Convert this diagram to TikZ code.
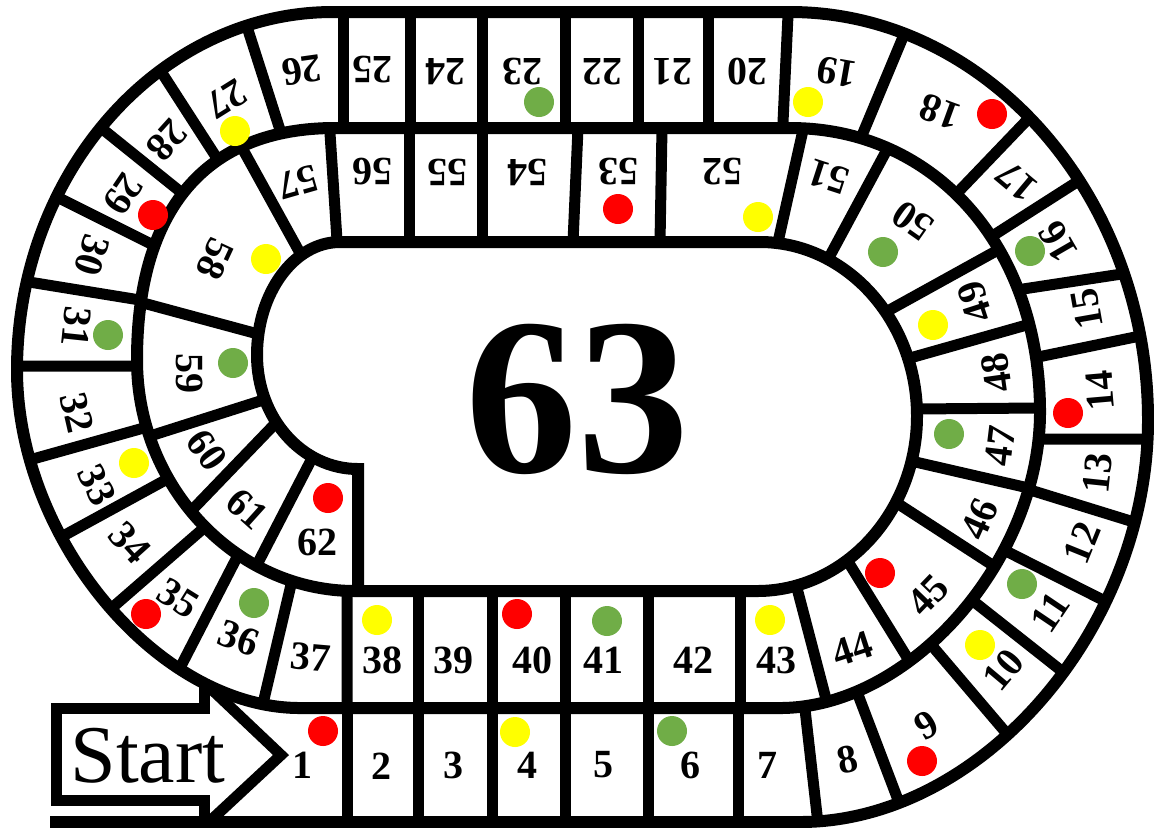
\documentclass[tikz,border=0pt]{standalone}
\usepackage{fontspec}
\setmainfont{Liberation Serif}
\usetikzlibrary{intersections,calc}
\definecolor{dgreen}{HTML}{70AD47}
\definecolor{dred}{HTML}{FF0000}
\definecolor{dyellow}{HTML}{FFFF00}
\newcommand\dv[2]{%
  \path[name path=dd] ($#1!-0.4!#2$) -- ($#2!-0.4!#1$);
  \draw[divider, name intersections={of=sp and dd, sort by=dd}] (intersection-1) -- (intersection-2);}
\begin{document}
\begin{tikzpicture}[x=0.5pt,y=-0.5pt,
  track/.style={line width=6pt, line join=miter},
  divider/.style={line width=5.5pt},
  num/.style={font=\fontsize{20}{20}\selectfont\bfseries, inner sep=0pt},
  dot/.style={circle, inner sep=0pt, minimum size=15pt, draw=none}]
\useasboundingbox (0,0) rectangle (1154,827);
% spiral track
\draw[track, name path=sp] (50,822) -- (800,822)
  .. controls (981,822) and (1148,629) .. (1148,420)
  .. controls (1148,196) and (987,12) .. (790,12) -- (333,12)
  .. controls (159,12) and (17,173) .. (17,370)
  .. controls (17,539) and (158.5,708) .. (300,708) -- (780,708)
  .. controls (910,708) and (1040,560) .. (1040,412)
  .. controls (1040,247) and (935,128) .. (790,128) -- (335,128)
  .. controls (206,128) and (137,209) .. (137,360)
  .. controls (137,486) and (235,591) .. (355,591) -- (757,591)
  .. controls (845,591) and (917,512) .. (917,416)
  .. controls (917,320) and (846,242) .. (760,242) -- (340,242)
  .. controls (294,242) and (257,293) .. (257,355)
  .. controls (257,418) and (302,469) .. (358,469) -- (358,591);
% dividers: bottom row
\dv{(347,708)}{(347,822)}
\dv{(418,708)}{(418,822)}
\dv{(492,708)}{(492,822)}
\dv{(565,708)}{(565,822)}
\dv{(648,708)}{(648,822)}
\dv{(738,708)}{(738,822)}
\dv{(805,709)}{(817,815)}
\dv{(862,705)}{(900,805)}
% right outer
\dv{(940,655)}{(1008,735)}
\dv{(987,612)}{(1063,672)}
\dv{(1010,553)}{(1107,602)}
\dv{(1040,493)}{(1137,523)}
\dv{(1040,439)}{(1147,439)}
\dv{(1043,356)}{(1140,336)}
\dv{(1023,289)}{(1135,272)}
\dv{(997,233)}{(1080,180)}
\dv{(960,190)}{(1030,117)}
\dv{(863,133)}{(903,37)}
\dv{(783,122)}{(788,15)}
% top outer
\dv{(708,128)}{(708,12)}
\dv{(638,128)}{(638,12)}
\dv{(565,128)}{(565,12)}
\dv{(482,128)}{(482,12)}
\dv{(410,128)}{(410,12)}
\dv{(343,128)}{(343,12)}
\dv{(280,130)}{(248,30)}
% left outer
\dv{(220,163)}{(160,70)}
\dv{(187,197)}{(100,127)}
\dv{(157,247)}{(57,197)}
\dv{(140,300)}{(17,280)}
\dv{(133,366)}{(20,366)}
\dv{(140,429)}{(33,459)}
\dv{(160,483)}{(63,536)}
\dv{(205,527)}{(113,607)}
\dv{(233,565)}{(182,664)}
\dv{(290,589)}{(265,695)}
% inner bottom
\dv{(347,591)}{(347,708)}
\dv{(418,591)}{(418,708)}
\dv{(492,591)}{(492,708)}
\dv{(565,591)}{(565,708)}
\dv{(648,591)}{(648,708)}
\dv{(740,591)}{(740,708)}
\dv{(798,592)}{(825,695)}
% inner right
\dv{(850,565)}{(910,662)}
\dv{(900,505)}{(1000,570)}
\dv{(920,463)}{(1033,489)}
\dv{(917,409)}{(1040,408)}
\dv{(917,356)}{(1023,326)}
\dv{(893,308)}{(998,250)}
\dv{(833,250)}{(883,157)}
\dv{(780,233)}{(803,130)}
% inner top
\dv{(660,242)}{(662,128)}
\dv{(573,242)}{(578,128)}
\dv{(482,242)}{(482,128)}
\dv{(409,242)}{(409,128)}
\dv{(337,240)}{(330,133)}
% inner left
\dv{(300,253)}{(247,157)}
\dv{(258,334)}{(143,303)}
\dv{(260,401)}{(150,436)}
\dv{(270,429)}{(193,509)}
\dv{(307,468)}{(263,553)}
% start arrow
\draw[divider, line join=miter] (204,822) -- (204,800) -- (56,800) -- (56,708) -- (204,708) -- (204,680);
\draw[divider, line join=miter] (205,683) -- (281,755) -- (209,822);
\node[font=\fontsize{41}{41}\selectfont, anchor=base, inner sep=0pt] (start) at (148,782) {Start};
% dots
\foreach \n/\x/\y/\c in {1/323/731/dred, 4/515/732/dyellow, 6/672/731/dgreen,
  9/922/761/dred, 10/980/645/dyellow, 11/1022/584/dgreen, 14/1068/413/dred,
  16/1030/251/dgreen, 18/992/114/dred, 19/808/102/dyellow, 23/539/102/dgreen,
  27/235/131/dyellow, 29/153/215/dred, 31/108/335/dgreen, 33/134/463/dyellow,
  35/146/614/dred, 36/254/603/dgreen, 38/377/620/dyellow, 40/517/614/dred,
  41/607/621/dgreen, 43/770/620/dyellow, 45/880/573/dred, 47/949/434/dgreen,
  49/933/325/dyellow, 50/883/252/dgreen, 52/758/217/dyellow, 53/618/209/dred,
  58/266/259/dyellow, 59/233/363/dgreen, 62/328/498/dred}
  \node[dot, fill=\c] (d\n) at (\x,\y) {};
% numbers
\foreach \n/\x/\y/\r in {1/302/765/0, 2/381/766/0, 3/453/765/0, 4/527/765/0,
  5/603/765/0, 6/690/765/0, 7/767/765/0, 8/848/760/12, 9/927/725/30,
  10/1003/670/50, 11/1050/612/56, 12/1082/543/68, 13/1098/473/84,
  14/1100/391/95, 15/1087/309/100, 16/1058/242/120, 17/1017/182/140,
  18/940/112/160, 19/837/72/170, 20/747/72/180, 21/672/72/180, 22/602/72/180,
  23/522/72/180, 24/445/72/180, 25/372/70/180, 26/302/70/188, 27/227/99/212,
  28/167/140/228, 29/123/194/236, 30/92/255/253, 31/76/327/264, 32/77/413/283,
  33/97/485/295, 34/130/543/312, 35/178/598/328, 36/239/638/340, 37/311/657/355,
  38/382/660/0, 39/453/660/0, 40/532/660/0, 41/603/660/0, 42/693/660/0,
  43/776/660/0, 44/852/649/18, 45/928/595/46, 46/980/519/66, 47/1000/446/83,
  48/997/373/98, 49/975/302/108, 50/913/221/145, 51/828/177/162, 52/722/172/180,
  53/618/172/180, 54/527/172/180, 55/447/172/180, 56/372/172/180, 57/298/182/196,
  58/215/259/245, 59/190/373/270, 60/207/450/305, 61/247/509/318, 62/317/542/0}
  \node[num, rotate=\r] (n\n) at (\x,\y) {\n};
\node[font=\fontsize{112}{112}\selectfont\bfseries, inner sep=0pt] (n63) at (577,399) {63};
\end{tikzpicture}
\end{document}
